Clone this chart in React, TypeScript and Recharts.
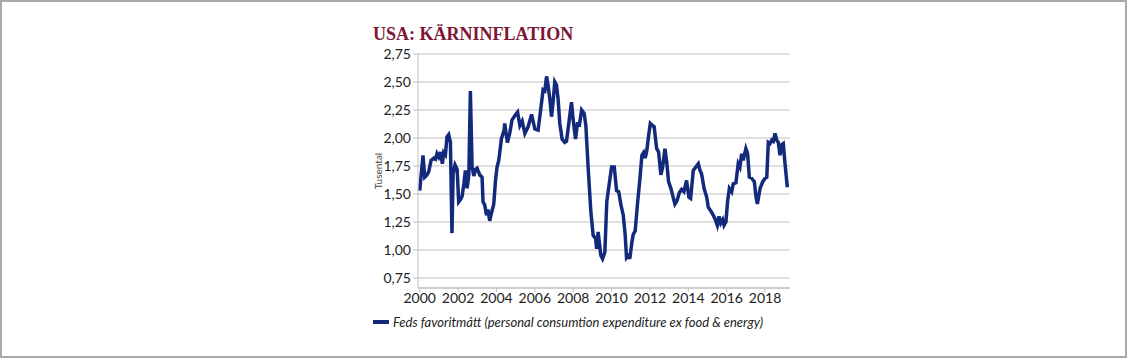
import { LineChart, Line, XAxis, YAxis, CartesianGrid, Legend } from 'recharts';

// tid i decimalår
const years = [
  2000.0, 2000.17, 2000.26, 2000.38, 2000.47, 2000.59, 2000.73, 2000.82, 2000.9, 2000.99,
  2001.08, 2001.18, 2001.25, 2001.34, 2001.42, 2001.51, 2001.6, 2001.68, 2001.74, 2001.84,
  2001.95, 2002.03, 2002.12, 2002.21, 2002.3, 2002.38, 2002.47, 2002.56, 2002.64, 2002.73,
  2002.82, 2002.91, 2002.99, 2003.13, 2003.25, 2003.3, 2003.39, 2003.48, 2003.55, 2003.65,
  2003.74, 2003.86, 2003.95, 2004.03, 2004.12, 2004.26, 2004.4, 2004.43, 2004.57, 2004.69,
  2004.81, 2004.96, 2005.1, 2005.22, 2005.34, 2005.48, 2005.65, 2005.83, 2006.0, 2006.17,
  2006.31, 2006.43, 2006.52, 2006.61, 2006.69, 2006.78, 2006.87, 2006.95, 2007.04, 2007.13,
  2007.21, 2007.3, 2007.42, 2007.56, 2007.65, 2007.77, 2007.91, 2008.0, 2008.12, 2008.23,
  2008.31, 2008.44, 2008.57, 2008.66, 2008.78, 2008.92, 2009.04, 2009.17, 2009.22, 2009.3,
  2009.44, 2009.53, 2009.65, 2009.75, 2009.87, 2010.0, 2010.14, 2010.26, 2010.37, 2010.49,
  2010.61, 2010.71, 2010.78, 2010.89, 2010.95, 2011.06, 2011.13, 2011.23, 2011.36, 2011.48,
  2011.58, 2011.67, 2011.75, 2011.83, 2011.93, 2012.02, 2012.14, 2012.22, 2012.35, 2012.45,
  2012.57, 2012.66, 2012.78, 2012.87, 2012.97, 2013.09, 2013.21, 2013.3, 2013.41, 2013.53,
  2013.65, 2013.77, 2013.91, 2014.03, 2014.12, 2014.26, 2014.39, 2014.52, 2014.61, 2014.69,
  2014.82, 2014.96, 2015.04, 2015.13, 2015.27, 2015.39, 2015.51, 2015.6, 2015.69, 2015.79,
  2015.86, 2015.96, 2016.05, 2016.14, 2016.26, 2016.34, 2016.48, 2016.6, 2016.69, 2016.78,
  2016.86, 2017.0, 2017.09, 2017.18, 2017.3, 2017.44, 2017.53, 2017.6, 2017.74, 2017.88,
  2018.0, 2018.09, 2018.17, 2018.26, 2018.35, 2018.43, 2018.52, 2018.61, 2018.69, 2018.78,
  2018.87, 2018.95, 2019.04, 2019.16,
];

// Feds favoritmått, core PCE (tusental)
const corePce = [
  1.53, 1.845, 1.65, 1.67, 1.7, 1.8, 1.82, 1.81, 1.86, 1.83,
  1.875, 1.77, 1.87, 1.85, 2.01, 2.03, 1.96, 1.15, 1.68, 1.76,
  1.72, 1.43, 1.45, 1.48, 1.59, 1.71, 1.55, 1.67, 2.42, 1.74,
  1.66, 1.72, 1.73, 1.67, 1.65, 1.43, 1.4, 1.31, 1.36, 1.26,
  1.33, 1.41, 1.62, 1.74, 1.8, 1.995, 2.07, 2.13, 1.96, 2.04,
  2.16, 2.2, 2.23, 2.11, 2.15, 2.04, 2.1, 2.21, 2.08, 2.07,
  2.26, 2.43, 2.42, 2.55, 2.47, 2.35, 2.19, 2.32, 2.5, 2.47,
  2.35, 2.13, 1.99, 1.96, 1.97, 2.13, 2.32, 2.16, 1.99, 2.14,
  2.1, 2.25, 2.22, 2.11, 1.73, 1.34, 1.13, 1.1, 1.01, 1.16,
  0.95, 0.92, 0.98, 1.43, 1.58, 1.74, 1.74, 1.53, 1.52, 1.4,
  1.31, 1.13, 0.93, 0.95, 0.92, 1.07, 1.14, 1.17, 1.43, 1.64,
  1.845, 1.87, 1.82, 1.88, 2.02, 2.13, 2.11, 2.1, 1.905, 1.875,
  1.67, 1.74, 1.905, 1.79, 1.61, 1.55, 1.47, 1.41, 1.44, 1.51,
  1.54, 1.52, 1.62, 1.47, 1.46, 1.71, 1.74, 1.77, 1.71, 1.68,
  1.55, 1.47, 1.38, 1.36, 1.32, 1.28, 1.22, 1.3, 1.24, 1.27,
  1.22, 1.25, 1.44, 1.55, 1.52, 1.59, 1.6, 1.77, 1.74, 1.86,
  1.8, 1.905, 1.86, 1.65, 1.64, 1.61, 1.47, 1.41, 1.55, 1.61,
  1.64, 1.65, 1.96, 1.95, 1.98, 1.97, 2.04, 1.98, 1.96, 1.845,
  1.94, 1.95, 1.77, 1.56,
];

const yTicks = [0.75, 1.0, 1.25, 1.5, 1.75, 2.0, 2.25, 2.5, 2.75];
const xTicks = [2000, 2002, 2004, 2006, 2008, 2010, 2012, 2014, 2016, 2018];

const seriesName = 'Feds favoritmått (personal consumtion expenditure ex food & energy)';

const data = years.map((t, i) => ({ t, pce: corePce[i] }));

const fmt = (v: number) => v.toFixed(2).replace('.', ',');

const LegendBox = () => (
  <div style={{ display: 'flex', alignItems: 'center', fontFamily: 'Lato', fontStyle: 'italic', fontSize: 13, color: '#222' }}>
    <span style={{ display: 'inline-block', width: 16, height: 4, background: '#132a7c', marginRight: 4 }} />
    {seriesName}
  </div>
);

export default function App() {
  return (
    <div
      style={{
        position: 'fixed',
        left: 0,
        top: 0,
        width: 1127,
        height: 358,
        boxSizing: 'border-box',
        border: '2px solid #a9a9a9',
        background: '#fff',
      }}
    >
      <div
        style={{
          position: 'absolute',
          left: 371,
          top: 22,
          fontFamily: 'Liberation Serif',
          fontWeight: 'bold',
          fontSize: 18,
          color: '#7d1535',
          whiteSpace: 'nowrap',
        }}
      >
        USA: KÄRNINFLATION
      </div>
      <div
        style={{
          position: 'absolute',
          left: 351,
          top: 163,
          width: 50,
          textAlign: 'center',
          fontFamily: 'Lato',
          fontSize: 10,
          color: '#444',
          transform: 'rotate(-90deg)',
        }}
      >
        Tusental
      </div>
      <div style={{ position: 'absolute', left: -2, top: -2 }}>
        {/* legenden tar ~17px i botten, därav mindre bottenmarginal */}
        <LineChart width={1127} height={358} data={data} margin={{ top: 54, right: 337, left: 368, bottom: 24 }}>
          <CartesianGrid vertical={false} stroke="#d4d4d4" strokeWidth={1.5} />
          <XAxis
            dataKey="t"
            type="number"
            domain={[1999.91, 2019.3]}
            ticks={xTicks}
            allowDataOverflow
            height={30}
            tickSize={4}
            tickMargin={1}
            stroke="#bfbfbf"
            tick={{ fill: '#222', fontSize: 14, fontFamily: 'Lato' }}
          />
          <YAxis
            type="number"
            domain={[0.66, 2.75]}
            ticks={yTicks}
            allowDataOverflow
            width={50}
            tickSize={5}
            tickMargin={2}
            stroke="#bfbfbf"
            tickFormatter={fmt}
            tick={{ fill: '#222', fontSize: 14, fontFamily: 'Lato' }}
          />
          <Legend
            content={<LegendBox />}
            wrapperStyle={{ position: 'absolute', left: 373, top: 314, width: 'auto' }}
          />
          <Line
            type="linear"
            dataKey="pce"
            name={seriesName}
            stroke="#132a7c"
            strokeWidth={3.5}
            dot={false}
            isAnimationActive={false}
          />
        </LineChart>
      </div>
    </div>
  );
}
